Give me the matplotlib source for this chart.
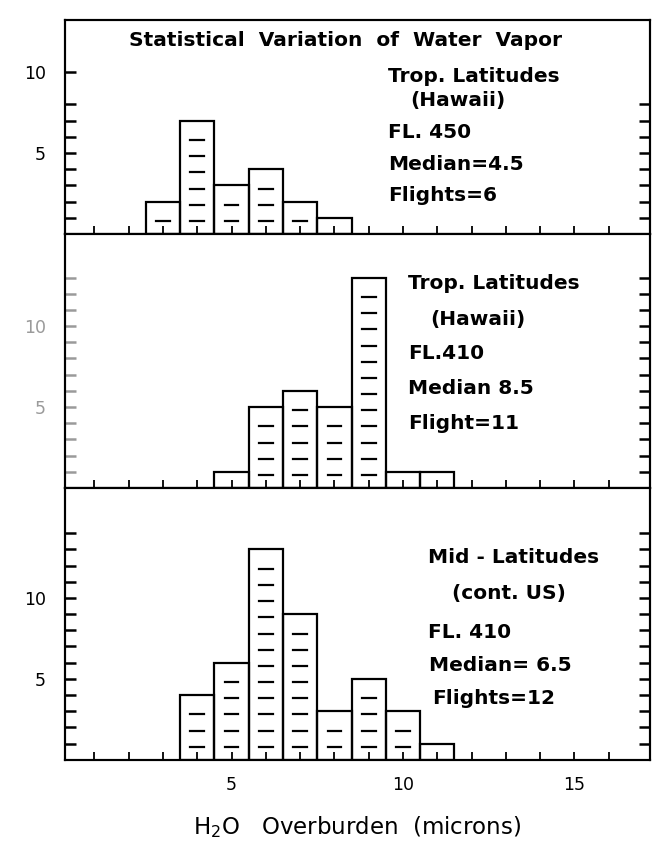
import matplotlib.pyplot as plt
import numpy as np

# histogram data (bin centres in microns, number of cases)
top_centers = [3, 4, 5, 6, 7, 8]
top_counts = [2, 7, 3, 4, 2, 1]
mid_centers = [5, 6, 7, 8, 9, 10, 11]
mid_counts = [1, 5, 6, 5, 13, 1, 1]
bot_centers = [4, 5, 6, 7, 8, 9, 10, 11]
bot_counts = [4, 6, 13, 9, 3, 5, 3, 1]

top_text = ["Trop. Latitudes", "(Hawaii)", "FL. 450", "Median=4.5", "Flights=6"]
mid_text = ["Trop. Latitudes", "(Hawaii)", "FL.410", "Median 8.5", "Flight=11"]
bot_text = ["Mid - Latitudes", "(cont. US)", "FL. 410", "Median= 6.5", "Flights=12"]

x_ticks = list(range(1, 17))
x_labels = [5, 10, 15]

plt.rcParams['font.family'] = 'DejaVu Sans'
plt.rcParams['mathtext.fontset'] = 'dejavusans'

fig = plt.figure(figsize=(6.59, 8.47), dpi=100)
ylims = [13.2, 15.7, 16.8]
gs = fig.add_gridspec(3, 1, height_ratios=ylims, hspace=0,
                      left=0.099, right=0.986, top=0.976, bottom=0.103)


def draw_panel(ax, centers, counts, ymax, left_ticks, right_ticks, texts, xs, ys, lab_color):
    ax.bar(centers, counts, width=1.0, fill=False, edgecolor='black', linewidth=1.6)
    # horizontal dashes inside each bar
    for c, n in zip(centers, counts):
        for k in range(1, n):
            ax.plot([c - 0.2, c + 0.2], [k - 0.2, k - 0.2], color='black', lw=1.6)
    ax.set_xlim(0.15, 17.2)
    ax.set_ylim(0, ymax)
    ax.set_xticks(x_ticks)
    ax.set_xticklabels([])
    ax.set_yticks(left_ticks)
    ax.set_yticklabels([str(t) if t in (5, 10) else '' for t in left_ticks],
                       fontsize=12.5, fontweight='medium', color=lab_color)
    ax.tick_params(axis='x', direction='in', length=6, width=1.3)
    ax.tick_params(axis='y', direction='in', length=8, width=1.8, pad=14,
                   color=lab_color)
    rax = ax.twinx()
    rax.set_ylim(0, ymax)
    rax.set_yticks(right_ticks)
    rax.set_yticklabels([])
    rax.tick_params(axis='y', direction='in', length=8, width=1.8)
    for sp in list(ax.spines.values()) + list(rax.spines.values()):
        sp.set_linewidth(1.5)
    for t, x, y in zip(texts, xs, ys):
        ax.text(x, y, t, transform=ax.transAxes, fontsize=14.5, fontweight='bold',
                ha='left', va='center')
    return ax


ax1 = fig.add_subplot(gs[0])
draw_panel(ax1, top_centers, top_counts, ylims[0], [1, 2, 3, 4, 5, 6, 7, 8, 10],
           list(range(1, 9)), top_text,
           [0.552, 0.591, 0.552, 0.552, 0.552], [0.737, 0.624, 0.474, 0.324, 0.178], 'black')
ax1.text(0.479, 0.905, "Statistical  Variation  of  Water  Vapor", transform=ax1.transAxes,
         fontsize=14.5, fontweight='bold', ha='center', va='center')

ax2 = fig.add_subplot(gs[1])
draw_panel(ax2, mid_centers, mid_counts, ylims[1], list(range(1, 14)),
           list(range(1, 14)), mid_text,
           [0.586, 0.624, 0.586, 0.586, 0.586], [0.803, 0.665, 0.528, 0.39, 0.252], '#9a9a9a')

ax3 = fig.add_subplot(gs[2])
draw_panel(ax3, bot_centers, bot_counts, ylims[2], list(range(1, 15)),
           list(range(1, 15)), bot_text,
           [0.62, 0.662, 0.62, 0.623, 0.627], [0.744, 0.612, 0.469, 0.348, 0.227], 'black')
ax3.set_xticks(x_ticks)
ax3.set_xticklabels([str(t) if t in x_labels else '' for t in x_ticks],
                    fontsize=12.5, fontweight='medium')
ax3.tick_params(axis='x', pad=12)
ax3.set_xlabel("H$_2$O   Overburden  (microns)", fontsize=16.5, labelpad=14)

fig.savefig("out.png", dpi=100)
